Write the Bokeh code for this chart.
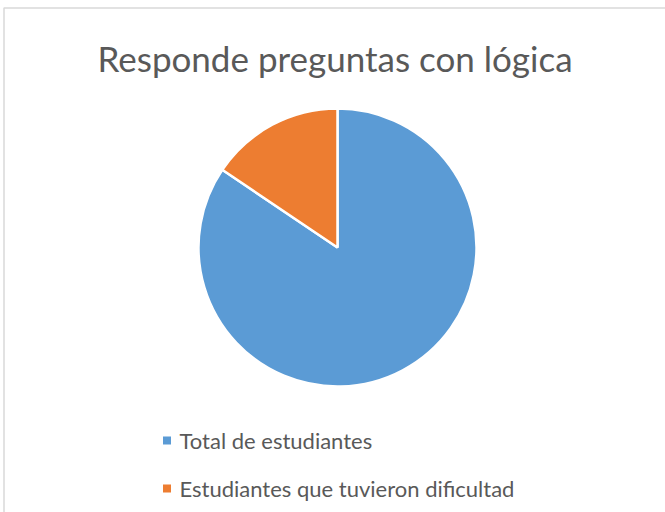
import math
from bokeh.plotting import figure
from bokeh.models import Range1d, ColumnDataSource
from bokeh.core.properties import value
from bokeh.embed import file_html
from bokeh.resources import INLINE

title_text = "Responde preguntas con lógica"
categories = ["Total de estudiantes", "Estudiantes que tuvieron dificultad"]
values = [38, 7]
colors = ["#5B9BD5", "#ED7D31"]

W, H = 665, 512
p = figure(width=W, height=H, output_backend="svg", toolbar_location=None,
           x_range=Range1d(0, W), y_range=Range1d(0, H), min_border=0)
p.axis.visible = False
p.grid.visible = False
p.outline_line_color = None
p.background_fill_color = "white"
p.border_fill_color = "white"

# chart area border (clipped on right/bottom as in reference)
p.quad(left=[3.5], right=[720], top=[H - 7.5], bottom=[-40],
       fill_color=None, line_color="#D9D9D9", line_width=1.5)

# pie
total = sum(values)
starts, ends = [], []
a = math.pi / 2
for v in values:
    span = 2 * math.pi * v / total
    starts.append(a)
    a -= span
    ends.append(a)
src = ColumnDataSource(dict(start=starts, end=ends, color=colors, cat=categories))
cx, cy, r = 337, H - 247, 139
p.wedge(x=cx, y=cy, radius=r, start_angle="start", end_angle="end",
        direction="clock", fill_color="color", line_color="white",
        line_width=2.5, source=src)

# title
p.text(x=[W / 2 + 2], y=[H - 57], text=[title_text], text_font=value("Lato"),
       text_font_size="35px", text_color="#595959", text_align="center",
       text_baseline="middle")

# legend
ly = [H - 440, H - 488]
p.rect(x=[166.5] * 2, y=ly, width=8, height=8, fill_color=colors, line_color=None)
p.text(x=[179] * 2, y=ly, text=categories, text_font=value("Lato"),
       text_font_size="22px", text_color="#595959", text_align="left",
       text_baseline="middle")

open("out.html", "w").write(file_html(p, INLINE))
